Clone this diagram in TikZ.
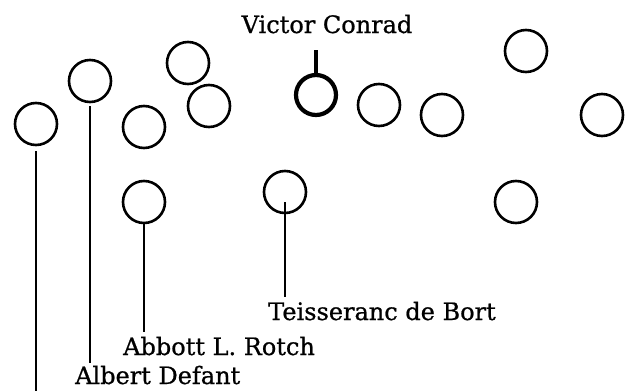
\documentclass[tikz,border=0pt]{standalone}
\usepackage{fontspec}
\setmainfont{DejaVu Serif}[FakeBold=0.8]
\begin{document}
\begin{tikzpicture}[x=1pt,y=-1pt,
  ring/.style={circle,draw,line width=2.6pt,minimum size=42pt,inner sep=0pt},
  boldring/.style={circle,draw,line width=4.2pt,minimum size=40pt,inner sep=0pt},
  lbl/.style={font=\fontsize{24}{28}\selectfont,inner sep=1pt},
  stick/.style={line width=2pt,shorten >=4pt}]
\useasboundingbox (0,0) rectangle (630,391);
\node[ring] (c1) at (36,124) {};
\node[ring] (c2) at (90,81) {};
\node[ring] (c3) at (144,127) {};
\node[ring] (c4) at (188,63) {};
\node[ring] (c5) at (209,106) {};
\node[boldring] (vc) at (316,95) {};
\node[ring] (c7) at (379,105) {};
\node[ring] (c8) at (442,115) {};
\node[ring] (c9) at (526,51) {};
\node[ring] (c10) at (602,115) {};
\node[ring] (c11) at (144,202) {};
\node[ring] (c12) at (285,192) {};
\node[ring] (c13) at (516,202) {};
\node[lbl,anchor=base] (lvc) at (327,33) {Victor Conrad};
\node[lbl,anchor=base west] (lt) at (267,320) {Teisseranc de Bort};
\node[lbl,anchor=base west] (la) at (122,355) {Abbott L. Rotch};
\node[lbl,anchor=base west] (ld) at (74,384) {Albert Defant};
\coordinate (bot) at (36,391);
\coordinate (vtop) at (316,50);
\draw[line width=3.2pt] (vc.north) -- (vc.north |- vtop);
\draw[stick] ([yshift=-10pt]c12.center) -- (c12.center |- lt.north);
\draw[stick] (c11.south) -- (c11.south |- la.north);
\draw[stick,shorten >=2pt] (c2.south) ++(0,3) -- (c2.south |- ld.north);
\draw[stick,shorten >=0pt] (c1.south) ++(0,5) -- (bot);
\end{tikzpicture}
\end{document}
